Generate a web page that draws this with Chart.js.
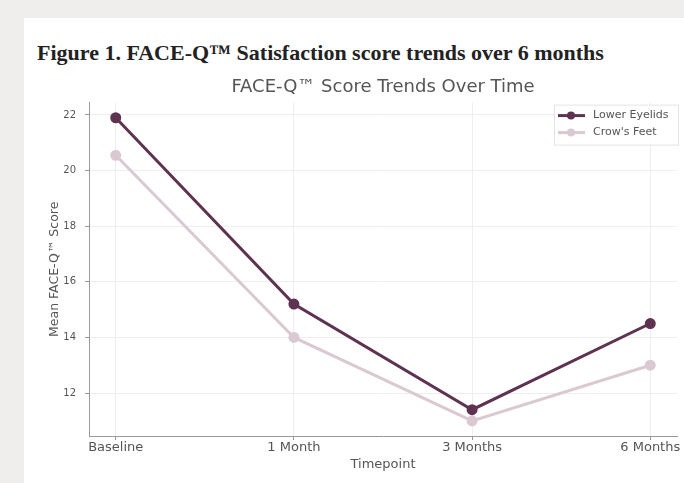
<!DOCTYPE html>
<html>
<head>
<meta charset="utf-8">
<script src="https://cdn.jsdelivr.net/npm/chart.js@4.4.0/dist/chart.umd.min.js"></script>
<style>
    html, body { margin: 0; padding: 0; background: #efeeec; width: 684px; height: 483px; overflow: hidden; }
    #panel { position: absolute; left: 24px; top: 18px; right: 0; bottom: 0; background: #fff; }
    #fig-title {
        position: absolute; left: 37px; top: 40px;
        font-family: "Liberation Serif", "DejaVu Serif", serif;
        font-weight: bold; font-size: 22px; color: #222; white-space: nowrap;
    }
    #wrap { position: absolute; left: 0; top: 0; width: 684px; height: 483px; }
</style>
</head>
<body>
<div id="panel"></div>
<div id="fig-title">Figure 1. FACE-Q™ Satisfaction score trends over 6 months</div>
<div id="wrap"><canvas id="chart"></canvas></div>
<script>
// Data
const timepoints = ['Baseline', '1 Month', '3 Months', '6 Months'];
const lowerEyelids = [21.9, 15.2, 11.4, 14.5];
const crowsFeet = [20.55, 14.0, 11.0, 13.0];
const yTicks = [12, 14, 16, 18, 20, 22];

const darkColor = '#5e3251';
const lightColor = '#dac9d1';
const textColor = '#555';

function toPoints(values) {
    return values.map((v, i) => ({ x: i, y: v }));
}

// Legend box drawn inside the top-right of the plot
const boxLegend = {
    id: 'boxLegend',
    afterDraw(chart) {
        const ctx = chart.ctx;
        const area = chart.chartArea;
        const x0 = area.right - 123, y0 = area.top + 2;
        ctx.save();
        ctx.fillStyle = 'rgba(255,255,255,0.8)';
        ctx.strokeStyle = '#e4e4e4';
        ctx.lineWidth = 1;
        ctx.fillRect(x0, y0, 124, 40);
        ctx.strokeRect(x0 + 0.5, y0 + 0.5, 124, 40);
        ctx.font = '11px "DejaVu Sans", sans-serif';
        ctx.textBaseline = 'middle';
        chart.data.datasets.forEach((ds, i) => {
            const y = y0 + 11 + i * 17;
            ctx.strokeStyle = ds.borderColor;
            ctx.lineWidth = 3;
            ctx.beginPath();
            ctx.moveTo(x0 + 4, y);
            ctx.lineTo(x0 + 31, y);
            ctx.stroke();
            ctx.fillStyle = ds.borderColor;
            ctx.beginPath();
            ctx.arc(x0 + 17, y, 4, 0, Math.PI * 2);
            ctx.fill();
            ctx.fillStyle = textColor;
            ctx.fillText(ds.label, x0 + 39, y);
        });
        ctx.restore();
    }
};

const ctx = document.getElementById('chart').getContext('2d');
new Chart(ctx, {
    type: 'line',
    data: {
        datasets: [
            {
                label: 'Lower Eyelids',
                data: toPoints(lowerEyelids),
                borderColor: darkColor,
                backgroundColor: darkColor,
                borderWidth: 3,
                pointRadius: 4,
                pointHoverRadius: 4
            },
            {
                label: "Crow's Feet",
                data: toPoints(crowsFeet),
                borderColor: lightColor,
                backgroundColor: lightColor,
                borderWidth: 3,
                pointRadius: 4,
                pointHoverRadius: 4
            }
        ]
    },
    options: {
        responsive: true,
        maintainAspectRatio: false,
        animation: false,
        layout: { padding: { left: 0, right: 4, top: 0, bottom: 0 } },
        plugins: {
            legend: { display: false },
            tooltip: { enabled: false },
            title: {
                display: true,
                fullSize: false,
                text: 'FACE-Q™ Score Trends Over Time',
                color: textColor,
                font: { family: 'DejaVu Sans', size: 18, weight: 'normal' },
                padding: { top: 77, bottom: 4 }
            }
        },
        scales: {
            x: {
                type: 'linear',
                min: -0.15,
                max: 3.15,
                afterFit(scale) {
                    scale.height = 47;
                    scale.paddingLeft = 0;
                    scale.paddingRight = 0;
                },
                ticks: {
                    stepSize: 1,
                    includeBounds: false,
                    autoSkip: false,
                    maxRotation: 0,
                    color: textColor,
                    padding: 0,
                    font: { family: 'DejaVu Sans', size: 13 },
                    callback: v => timepoints[v] ?? ''
                },
                grid: { color: '#eeeeee', tickLength: 4, tickColor: '#999' },
                border: { color: '#999', width: 1 },
                title: {
                    display: true,
                    text: 'Timepoint',
                    color: textColor,
                    font: { family: 'DejaVu Sans', size: 13 },
                    padding: { top: 0, bottom: 11 }
                }
            },
            y: {
                min: 10.455,
                max: 22.445,
                afterFit(scale) {
                    scale.width = 89;
                    scale.paddingTop = 0;
                    scale.paddingBottom = 0;
                },
                afterBuildTicks(scale) {
                    scale.ticks = yTicks.map(v => ({ value: v }));
                },
                ticks: {
                    color: textColor,
                    padding: 9,
                    font: { family: 'DejaVu Sans', size: 10 }
                },
                grid: { color: '#eeeeee', tickLength: 4, tickColor: '#999' },
                border: { color: '#999', width: 1 },
                title: {
                    display: true,
                    text: 'Mean FACE-Q™ Score',
                    color: textColor,
                    font: { family: 'DejaVu Sans', size: 12.5 },
                    padding: { top: 47, bottom: 0 }
                }
            }
        }
    },
    plugins: [boxLegend]
});
</script>
</body>
</html>
